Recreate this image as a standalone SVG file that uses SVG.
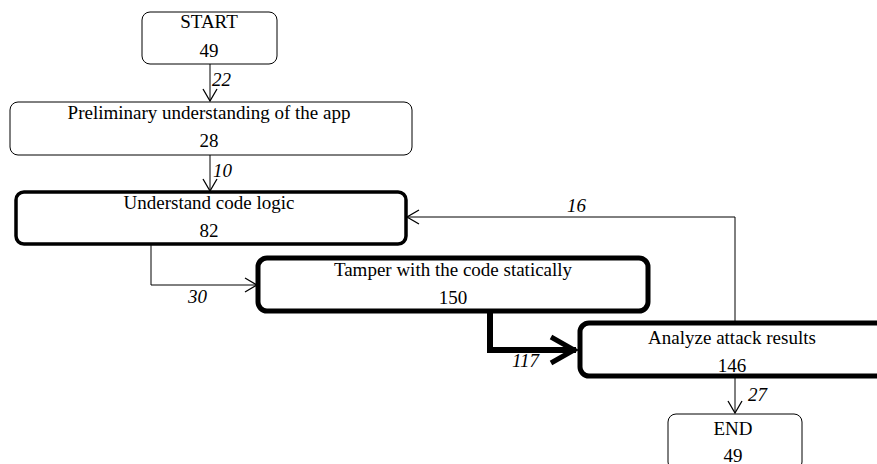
<svg xmlns="http://www.w3.org/2000/svg" width="877" height="464" viewBox="0 0 877 464">
<style>
.box{fill:#fff;stroke:#000}
.t{font-family:"Liberation Serif","Times New Roman",serif;font-size:19px;fill:#000;text-anchor:middle}
.lbl{font-family:"Liberation Serif","Times New Roman",serif;font-size:19px;font-style:italic;fill:#000}
.c{fill:none;stroke:#000;stroke-linejoin:miter}
</style>
<defs>
<marker id="ah" markerUnits="userSpaceOnUse" markerWidth="20" markerHeight="20" refX="12" refY="8" orient="auto" overflow="visible">
<path d="M0,1 L12,8 L0,15" fill="none" stroke="#000" stroke-width="1.3"/>
</marker>
<marker id="ahb" markerUnits="userSpaceOnUse" markerWidth="40" markerHeight="40" refX="27" refY="15" orient="auto" overflow="visible">
<path d="M2,2 L25,15 L2,28" fill="none" stroke="#000" stroke-width="5"/>
</marker>
</defs>
<rect width="877" height="464" fill="#fff"/>
<g id="connectors">
<path class="c" stroke-width="1" d="M210,64 V101" marker-end="url(#ah)"/>
<path class="c" stroke-width="1" d="M210,155 V191" marker-end="url(#ah)"/>
<path class="c" stroke-width="1" d="M151,244 V285 H257" marker-end="url(#ah)"/>
<path class="c" stroke-width="6" d="M490,311 V350 H576" marker-end="url(#ahb)"/>
<path class="c" stroke-width="1" d="M735,322 V217 H407" marker-end="url(#ah)"/>
<path class="c" stroke-width="1" d="M735,377 V413" marker-end="url(#ah)"/>
<text class="lbl" x="212" y="86">22</text>
<text class="lbl" x="213" y="177">10</text>
<text class="lbl" x="567" y="212">16</text>
<text class="lbl" x="188" y="303">30</text>
<text class="lbl" x="512" y="367">117</text>
<text class="lbl" x="748" y="401">27</text>
</g>
<g id="start">
<rect class="box" x="142" y="12" width="135" height="52" rx="8" stroke-width="1"/>
<text class="t" x="209" y="28">START</text>
<text class="t" x="209" y="57">49</text>
</g>
<g id="prelim">
<rect class="box" x="10" y="102" width="402" height="53" rx="8" stroke-width="1"/>
<text class="t" x="209" y="119">Preliminary understanding of the app</text>
<text class="t" x="209" y="147">28</text>
</g>
<g id="understand">
<rect class="box" x="16" y="192" width="390" height="52" rx="8" stroke-width="3.5"/>
<text class="t" x="209" y="209">Understand code logic</text>
<text class="t" x="209" y="237">82</text>
</g>
<g id="tamper">
<rect class="box" x="258" y="258" width="390" height="53" rx="9" stroke-width="5"/>
<text class="t" x="453" y="276">Tamper with the code statically</text>
<text class="t" x="453" y="304">150</text>
</g>
<g id="analyze">
<rect class="box" x="580" y="323" width="306" height="53" rx="9" stroke-width="5"/>
<text class="t" x="732" y="344">Analyze attack results</text>
<text class="t" x="732" y="372">146</text>
</g>
<g id="end">
<rect class="box" x="668" y="414" width="134" height="56" rx="8" stroke-width="1"/>
<text class="t" x="733" y="435">END</text>
<text class="t" x="733" y="462">49</text>
</g>
</svg>
